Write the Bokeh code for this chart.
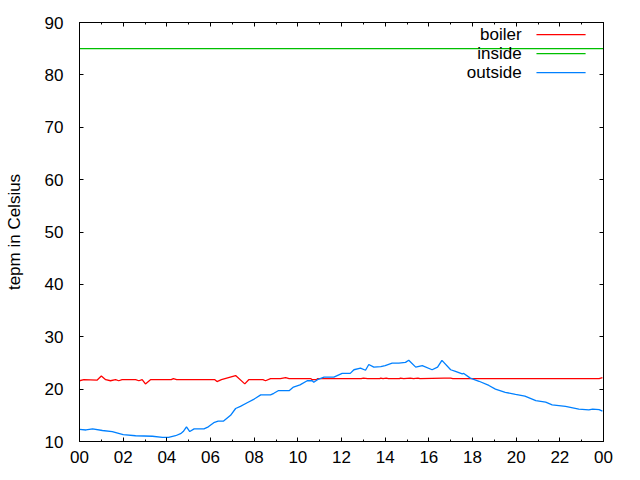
from bokeh.plotting import figure
from bokeh.models import LinearAxis, FixedTicker, Range1d, CustomLabelingPolicy
from bokeh.core.properties import value
from bokeh.embed import file_html
from bokeh.resources import INLINE

# ---- data ----
outside_hours = [0.0, 0.3, 0.6, 1.05, 1.5, 2.0, 2.57, 3.34, 3.8, 4.08, 4.4, 4.63, 4.75, 4.9, 5.05,
                 5.25, 5.7, 5.9, 6.15, 6.35, 6.6, 6.92, 7.15, 7.37, 7.68, 8.0, 8.3, 8.75, 8.9, 9.1,
                 9.6, 9.8, 10.1, 10.43, 10.66, 10.73, 10.9, 11.2, 11.65, 12.03, 12.4, 12.57, 12.87,
                 13.1, 13.25, 13.48, 13.8, 14.0, 14.32, 14.63, 14.93, 15.08, 15.4, 15.7, 16.15, 16.4,
                 16.6, 17.0, 17.22, 17.53, 17.6, 17.9, 18.3, 18.75, 19.05, 19.5, 19.97, 20.4, 20.9,
                 21.35, 21.65, 22.26, 22.87, 23.33, 23.5, 23.8, 23.95]
outside_temp = [12.3, 12.2, 12.4, 12.1, 11.9, 11.3, 11.1, 11.0, 10.8, 10.8, 11.1, 11.5, 11.9, 12.8, 11.9,
                12.4, 12.4, 12.8, 13.6, 13.9, 13.9, 15.0, 16.3, 16.7, 17.4, 18.1, 18.9, 18.9, 19.2, 19.7,
                19.7, 20.4, 20.8, 21.6, 21.6, 21.3, 21.8, 22.3, 22.3, 23.0, 23.0, 23.7, 24.0,
                23.6, 24.7, 24.2, 24.3, 24.5, 24.95, 24.95, 25.1, 25.5, 24.2, 24.5, 23.7, 24.2,
                25.5, 23.7, 23.4, 22.9, 23.0, 22.1, 21.5, 20.7, 20.0, 19.4, 19.0, 18.65, 17.8,
                17.5, 17.0, 16.7, 16.2, 16.05, 16.2, 16.1, 15.8]

boiler_hours = [0.0, 0.2, 0.8, 1.0, 1.2, 1.42, 1.65, 1.8, 1.95, 2.57, 2.72, 2.87, 3.02, 3.25, 4.2,
                4.3, 4.45, 6.2, 6.3, 6.5, 7.15, 7.57, 7.75, 8.4, 8.52, 8.75, 9.2, 9.44, 9.6, 10.6,
                10.66, 10.85, 10.9, 12.9, 13.0, 13.2, 13.75, 13.8, 13.9, 14.05, 14.15, 14.65, 14.7,
                14.85, 15.15, 15.3, 15.5, 15.6, 16.7, 17.0, 17.1, 23.8, 23.95]
boiler_temp = [21.6, 21.8, 21.7, 22.5, 21.8, 21.6, 21.8, 21.6, 21.8, 21.8, 21.6, 21.8, 21.0, 21.8, 21.8,
               22.0, 21.8, 21.8, 21.45, 21.8, 22.6, 21.0, 21.8, 21.8, 21.6, 22.0, 22.0, 22.2, 22.0, 22.0,
               21.8, 21.8, 22.0, 22.0, 22.1, 22.0, 22.0, 22.1, 22.0, 22.1, 22.0, 22.0, 22.1,
               22.0, 22.1, 22.0, 22.1, 22.0, 22.1, 22.1, 22.0, 22.0, 22.2]

inside_hours = [0.0, 24.0]
inside_temp = [85.0, 85.0]

x_ticks = [0, 2, 4, 6, 8, 10, 12, 14, 16, 18, 20, 22, 24]
x_tick_labels = ["00", "02", "04", "06", "08", "10", "12", "14", "16", "18", "20", "22", "00"]
x_minor_ticks = [1, 3, 5, 7, 9, 11, 13, 15, 17, 19, 21, 23]
y_ticks = [10, 20, 30, 40, 50, 60, 70, 80, 90]

legend_names = ["boiler", "inside", "outside"]
legend_colors = ["#ff0000", "#00c000", "#0080ff"]

FONT = "Liberation Sans"
FS = "17px"

p = figure(width=640, height=480, output_backend="svg", toolbar_location=None,
           x_range=Range1d(0, 24), y_range=Range1d(10, 90),
           min_border_left=79, min_border_right=37, min_border_top=22, min_border_bottom=39,
           x_axis_location=None, y_axis_location=None)
p.grid.visible = False
p.outline_line_color = "black"
p.outline_line_width = 1
p.background_fill_color = "white"
p.border_fill_color = "white"

xt = FixedTicker(ticks=x_ticks, minor_ticks=x_minor_ticks)
yt = FixedTicker(ticks=y_ticks, minor_ticks=[])

def style(ax, show_labels):
    ax.axis_line_color = "black"
    ax.major_tick_in = 4
    ax.major_tick_out = 0
    ax.minor_tick_in = 2
    ax.minor_tick_out = 0
    ax.major_tick_line_color = "black"
    ax.minor_tick_line_color = "black"
    ax.major_label_text_font = FONT
    ax.major_label_text_font_size = FS
    ax.major_label_text_color = "black"
    if not show_labels:
        # mirrored axis: ticks only, no labels drawn at all
        ax.major_label_policy = CustomLabelingPolicy(
            code="for (let i = 0; i < indices.size; i++) { indices.unset(i) }; return indices;")
        ax.major_label_standoff = 0

bottom = LinearAxis(ticker=xt, major_label_overrides={t: l for t, l in zip(x_ticks, x_tick_labels)})
style(bottom, True)
bottom.major_label_standoff = 9
p.add_layout(bottom, "below")

top = LinearAxis(ticker=xt)
style(top, False)
p.add_layout(top, "above")

left = LinearAxis(ticker=yt, axis_label="tepm in Celsius")
style(left, True)
left.major_label_standoff = 16
left.axis_label_text_font = FONT
left.axis_label_text_font_size = FS
left.axis_label_text_font_style = "normal"
left.axis_label_text_color = "black"
left.axis_label_standoff = 18
p.add_layout(left, "left")

right = LinearAxis(ticker=yt)
style(right, False)
p.add_layout(right, "right")

# series
p.line(boiler_hours, boiler_temp, line_color=legend_colors[0], line_width=1.3)
p.line(inside_hours, inside_temp, line_color=legend_colors[1], line_width=1.3)
p.line(outside_hours, outside_temp, line_color=legend_colors[2], line_width=1.3)

# legend (keys to the right of right-aligned labels, gnuplot style)
leg_top = 87.7
leg_step = 3.63
leg_text_x = 20.25
leg_x0, leg_x1 = 20.93, 23.18
leg_y = [leg_top - i * leg_step for i in range(len(legend_names))]
p.text(x=[leg_text_x] * 3, y=leg_y, text=legend_names, text_align="right",
       text_baseline="middle", text_font=value(FONT), text_font_size=FS, text_color="black")
p.segment(x0=[leg_x0] * 3, y0=leg_y, x1=[leg_x1] * 3, y1=leg_y,
          line_color=legend_colors, line_width=1.3)

open("out.html", "w").write(file_html(p, INLINE))
